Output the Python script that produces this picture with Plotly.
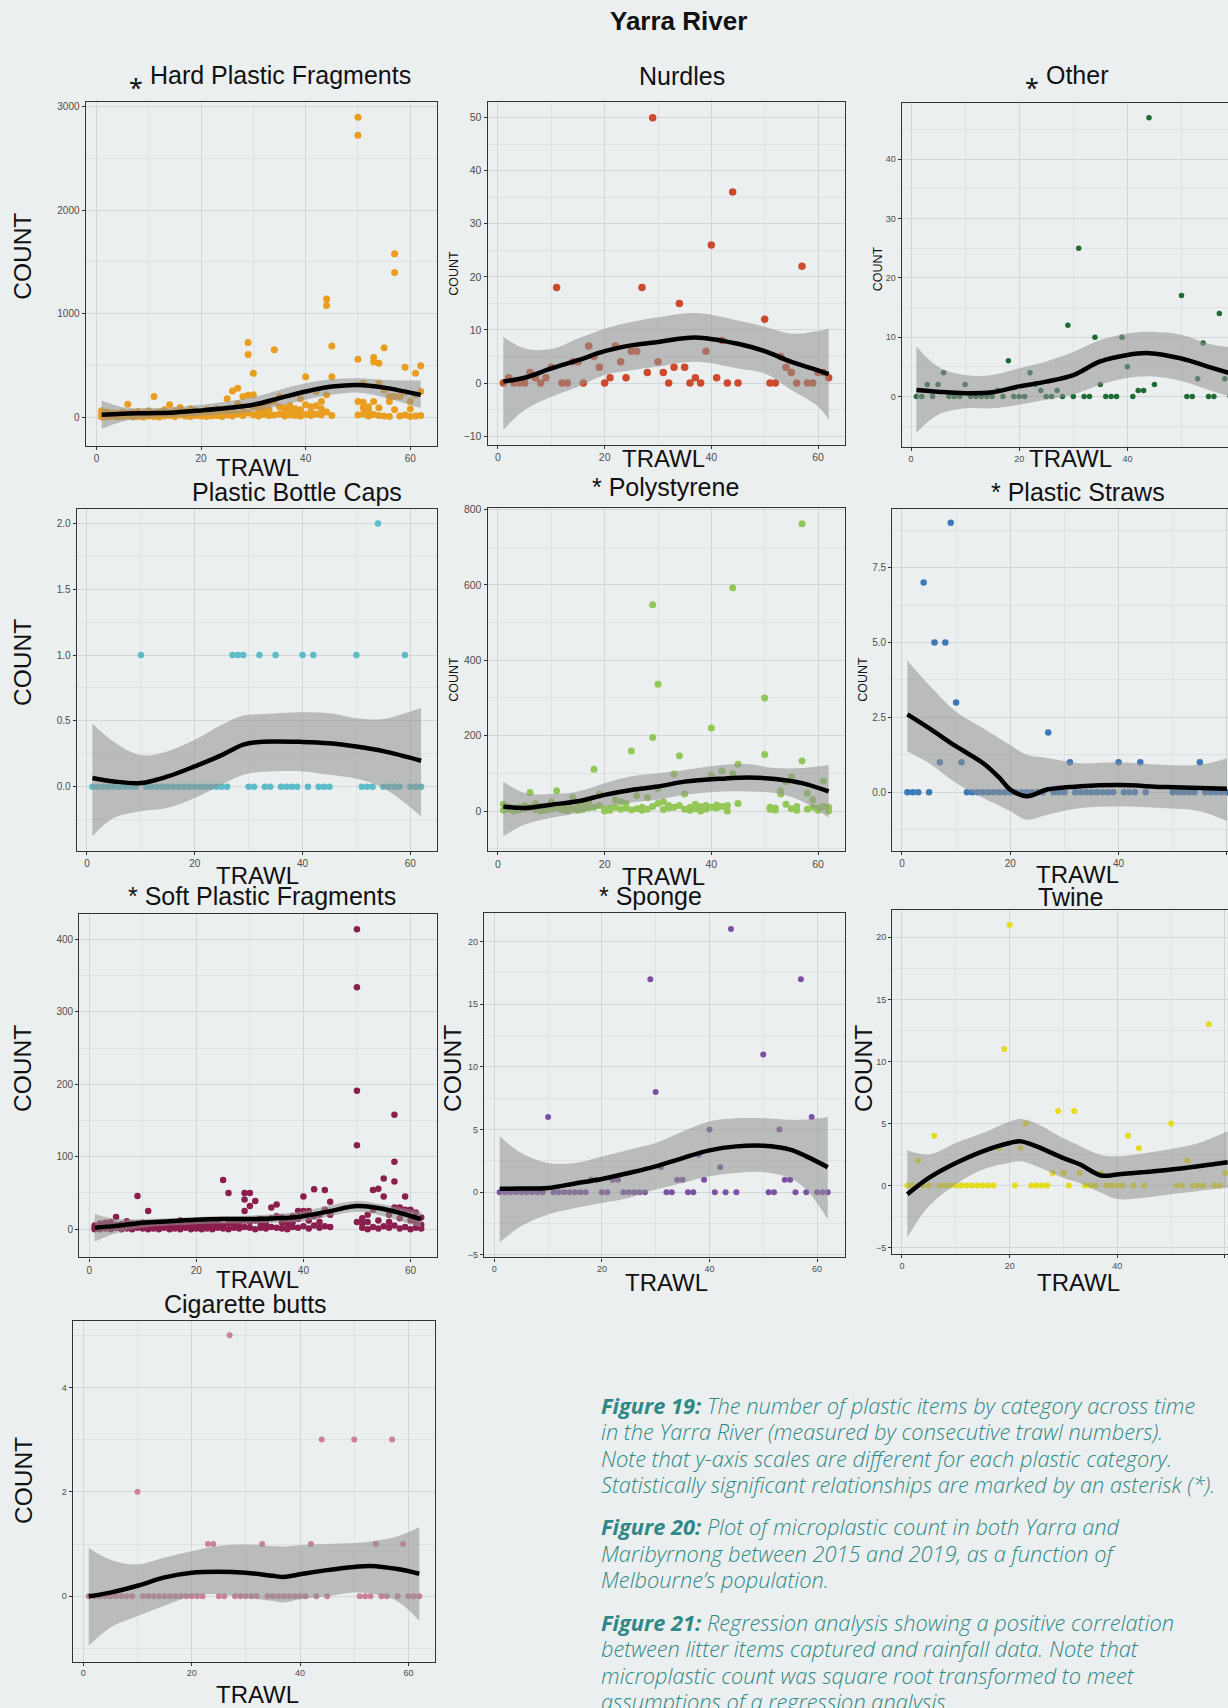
import plotly.graph_objects as go

W, H = 1228, 1708
BG = "#ECEFEF"
GRID = "#D3D7D8"
GRID2 = "#DFE2E3"
BAND = "rgba(145,145,145,0.55)"
FONT = "Liberation Sans, Arial, sans-serif"
CAP_COLOR = "#2E8886"

# ---------------- data ----------------
TRAWLS = [1, 2, 3, 4, 5, 6, 7, 8, 9, 10, 11, 12, 13, 14, 15, 16, 17, 18, 19, 20,
          21, 22, 23, 24, 25, 26, 27, 28, 29, 30, 31, 32, 33, 34, 35, 36, 37, 38, 39, 40,
          41, 42, 43, 44, 45, 50, 51, 52, 53, 54, 55, 56, 57, 58, 59, 60, 61, 62]

# several samples per trawl (dense panels)
hard_plastic = {
    1: [0, 10, 25, 45, 60], 2: [0, 15, 30, 50], 3: [5, 20, 40], 4: [0, 10, 35], 5: [5, 25, 50],
    6: [10, 40, 125], 7: [0, 20, 45], 8: [5, 30, 55], 9: [0, 15, 40], 10: [10, 35, 60],
    11: [5, 40, 199], 12: [0, 25, 50], 13: [10, 30, 70], 14: [15, 45, 119], 15: [5, 30, 60],
    16: [20, 50, 93], 17: [10, 35, 55], 18: [5, 40, 80], 19: [15, 30, 60], 20: [10, 25, 50],
    21: [5, 40, 70], 22: [10, 30, 60], 23: [15, 45, 80], 24: [5, 25, 55], 25: [20, 60, 176],
    26: [10, 50, 253], 27: [30, 130, 279], 28: [15, 80, 199], 29: [40, 210, 606, 722],
    30: [20, 100, 215, 423], 31: [10, 45, 90], 32: [25, 60, 120], 33: [15, 70, 140],
    34: [20, 150, 651], 35: [30, 100, 199], 36: [10, 50, 90], 37: [20, 60, 110], 38: [15, 45, 80],
    39: [10, 70, 176], 40: [25, 120, 391], 41: [15, 50, 100], 42: [30, 110, 247], 43: [20, 80, 151],
    44: [50, 215, 1078, 1142], 45: [15, 391, 687], 50: [20, 151, 558, 2724, 2900],
    51: [30, 90, 144, 327], 52: [10, 60, 100], 53: [25, 151, 536, 577], 54: [15, 90, 327, 520],
    55: [10, 263, 670], 56: [5, 151, 200], 57: [71, 200, 1399, 1578], 58: [10, 199],
    59: [20, 241, 481], 60: [5, 77, 150], 61: [10, 215, 423], 62: [15, 247, 497],
}
polystyrene = {
    1: [2, 18], 2: [5, 12], 3: [0, 8], 4: [3, 10], 5: [6, 14], 6: [10, 49], 7: [4, 20], 8: [0, 12],
    9: [2, 9], 10: [5, 25], 11: [8, 54], 12: [3, 15], 13: [0, 10], 14: [6, 36], 15: [2, 12],
    16: [4, 18], 17: [8, 22], 18: [10, 111], 19: [15, 45], 20: [0, 5], 21: [2, 8], 22: [10, 30],
    23: [5, 25], 24: [8, 20], 25: [3, 159], 26: [6, 41], 27: [2, 10], 28: [5, 36],
    29: [12, 195, 547], 30: [20, 59, 336], 31: [4, 25], 32: [8, 15], 33: [10, 98], 34: [15, 147],
    35: [5, 45], 36: [2, 10], 37: [6, 18], 38: [0, 12], 39: [5, 15], 40: [10, 94, 220],
    41: [8, 16], 42: [12, 106], 43: [0, 15], 44: [99, 592], 45: [20, 124], 50: [150, 300],
    51: [5, 10], 52: [3, 8], 53: [45, 54], 54: [18, 78], 55: [6, 90], 56: [2, 12], 57: [133, 762],
    58: [5, 47], 59: [10, 30], 60: [2, 8], 61: [12, 80], 62: [0, 10],
}
soft_plastic = {
    1: [0, 2, 5], 2: [0, 3, 8], 3: [1, 5, 9], 4: [0, 4, 10], 5: [2, 6, 17], 6: [0, 3, 7],
    7: [1, 5, 11], 8: [0, 4, 8], 9: [2, 8, 46], 10: [1, 5, 9], 11: [0, 6, 25], 12: [1, 3, 7],
    13: [0, 4, 8], 14: [2, 5, 6], 15: [0, 3, 7], 16: [1, 4, 6], 17: [0, 6, 12], 18: [2, 5, 9],
    19: [0, 3, 7], 20: [1, 5, 8], 21: [0, 2, 6], 22: [1, 4, 9], 23: [0, 3, 7], 24: [2, 6, 10],
    25: [1, 5, 68], 26: [0, 8, 50], 27: [2, 6, 10], 28: [1, 4, 9], 29: [3, 12, 25, 41, 50],
    30: [2, 10, 32, 50], 31: [0, 12, 39], 32: [2, 8, 14], 33: [1, 6, 12], 34: [3, 15, 30],
    35: [2, 18, 34], 36: [1, 9, 16], 37: [0, 7, 13], 38: [3, 10, 18], 39: [2, 14, 25],
    40: [4, 25, 45], 41: [1, 12, 25], 42: [5, 18, 55], 43: [2, 10, 20], 44: [4, 27, 54],
    45: [3, 20, 38], 50: [10, 116, 191, 334, 414], 51: [2, 8, 15], 52: [0, 10, 20],
    53: [3, 27, 54], 54: [1, 12, 56], 55: [4, 45, 70], 56: [2, 10, 20], 57: [5, 30, 66, 93, 158],
    58: [1, 15, 30], 59: [3, 27, 45], 60: [0, 12, 27], 61: [2, 10, 23], 62: [1, 6, 16],
}

# one count per trawl
nurdles = [0, 1, 0, 0, 0, 2, 1, 0, 1, 3, 18, 0, 0, 4, 4, 0, 7, 5, 3, 0,
           1, 7, 4, 1, 6, 6, 18, 2, 50, 4, 2, 0, 3, 15, 3, 0, 1, 0, 6, 26,
           1, 8, 0, 36, 0, 12, 0, 0, 5, 3, 2, 0, 22, 0, 0, 2, 2, 1]
other = [0, 0, 2, 0, 2, 4, 0, 0, 0, 2, 0, 0, 0, 0, 0, 1, 0, 6, 0, 0,
         0, 4, 2, 1, 0, 0, 1, 0, 12, 0, 25, 0, 0, 10, 2, 0, 0, 0, 10, 5,
         0, 1, 1, 47, 2, 17, 0, 0, 3, 9, 0, 0, 14, 3, 0, 0, 0, 0]
bottle_caps = [0, 0, 0, 0, 0, 0, 0, 0, 0, 1, 0, 0, 0, 0, 0, 0, 0, 0, 0, 0,
               0, 0, 0, 0, 0, 0, 1, 1, 1, 0, 0, 1, 0, 0, 1, 0, 0, 0, 0, 1,
               0, 1, 0, 0, 0, 1, 0, 0, 0, 2, 0, 0, 0, 0, 1, 0, 0, 0]
straws = [0, 0, 0, 7, 0, 5, 1, 5, 9, 3, 1, 0, 0, 0, 0, 0, 0, 0, 0, 0,
          0, 0, 0, 0, 0, 0, 2, 0, 0, 0, 1, 0, 0, 0, 0, 0, 0, 0, 0, 1,
          0, 0, 0, 1, 0, 0, 0, 0, 0, 0, 1, 0, 0, 0, 0, 0, 0, 0]
sponge = [0, 0, 0, 0, 0, 0, 0, 0, 0, 6, 0, 0, 0, 0, 0, 0, 0, 1, 1, 0,
          0, 1, 1, 0, 0, 0, 0, 0, 17, 8, 2, 0, 0, 1, 1, 0, 0, 3, 1, 5,
          0, 2, 0, 21, 0, 11, 0, 0, 5, 1, 1, 0, 17, 0, 6, 0, 0, 0]
twine = [0, 0, 2, 0, 0, 4, 0, 0, 0, 0, 0, 0, 0, 0, 0, 0, 0, 3, 11, 21,
         0, 3, 5, 0, 0, 0, 0, 1, 6, 1, 0, 6, 1, 0, 0, 0, 1, 0, 0, 0,
         0, 4, 0, 3, 0, 5, 0, 0, 2, 0, 0, 0, 13, 0, 0, 1, 0, 0]
cigarette = [0, 0, 0, 0, 0, 0, 0, 0, 0, 2, 0, 0, 0, 0, 0, 0, 0, 0, 0, 0,
             0, 0, 1, 1, 0, 0, 5, 0, 0, 0, 0, 0, 1, 0, 0, 0, 0, 0, 0, 0,
             0, 1, 0, 3, 0, 3, 0, 0, 0, 1, 0, 0, 3, 0, 1, 0, 0, 0]

# loess smooth (fit, lower, upper)
hard_fx = [1, 5, 10, 15, 20, 25, 30, 35, 40, 45, 50, 55, 62]
hard_fit = [22, 32, 38, 45, 64, 87, 119, 183, 247, 295, 311, 285, 215]
hard_lo = [-115, -42, -10, 0, 13, 29, 55, 109, 167, 215, 237, 189, 87]
hard_hi = [160, 96, 87, 96, 119, 151, 192, 263, 327, 366, 375, 359, 353]

nurd_fx = [1, 5, 10, 15, 20, 25, 30, 37, 45, 50, 55, 60, 62]
nurd_fit = [0.3, 1.0, 2.75, 4.3, 6.0, 7.1, 7.75, 8.6, 7.4, 6.0, 4.0, 2.4, 1.7]
nurd_lo = [-8.8, -5.1, -2.6, -0.7, 1.5, 2.4, 3.1, 4.0, 2.75, 1.8, -1.3, -4.4, -6.9]
nurd_hi = [8.7, 6.5, 6.4, 8.4, 10.25, 11.5, 12.4, 13.2, 11.8, 10.6, 9.3, 9.8, 10.25]

oth_fx = [1, 5, 10, 15, 20, 25, 30, 35, 40, 44, 50, 55, 59]
oth_fit = [1.1, 0.8, 0.55, 0.7, 1.7, 2.5, 3.6, 5.9, 7.0, 7.3, 6.4, 5.0, 3.9]
oth_lo = [-6.1, -3.1, -2.0, -2.0, -1.4, -0.56, 0.3, 2.0, 3.1, 3.4, 2.6, 1.1, 0.0]
oth_hi = [8.4, 5.0, 3.6, 3.6, 4.75, 5.9, 7.5, 9.5, 10.6, 10.9, 10.4, 8.9, 8.3]

caps_fx = [1, 5, 10, 15, 20, 25, 29, 32, 40, 45, 50, 55, 62]
caps_fit = [0.066, 0.04, 0.028, 0.078, 0.154, 0.24, 0.32, 0.34, 0.34, 0.33, 0.305, 0.27, 0.197]
caps_lo = [-0.376, -0.237, -0.187, -0.16, -0.086, 0.015, 0.09, 0.11, 0.116, 0.09, 0.06, -0.01, -0.225]
caps_hi = [0.48, 0.34, 0.24, 0.27, 0.356, 0.47, 0.54, 0.55, 0.566, 0.558, 0.52, 0.515, 0.6]

poly_fx = [1, 5, 10, 15, 20, 25, 30, 35, 42, 47, 52, 57, 62]
poly_fit = [12, 8, 17, 26, 43, 56, 65, 78, 86, 89, 85, 74, 52]
poly_lo = [-67, -36, -18, -5, 12, 23, 30, 43, 52, 52, 48, 26, -18]
poly_hi = [78, 48, 45, 52, 74, 92, 100, 109, 122, 124, 114, 114, 122]

str_fx = [1, 5, 10, 15, 18, 20, 23, 27, 33, 40, 48, 55, 60]
str_fit = [2.6, 2.14, 1.53, 0.97, 0.48, 0.09, -0.13, 0.1, 0.2, 0.24, 0.18, 0.14, 0.12]
str_lo = [1.36, 0.97, 0.31, -0.19, -0.45, -0.63, -0.91, -0.74, -0.52, -0.47, -0.52, -0.63, -0.96]
str_hi = [4.4, 3.58, 2.69, 2.14, 1.8, 1.58, 1.25, 1.14, 0.97, 1.0, 0.92, 0.92, 1.14]

soft_fx = [1, 5, 10, 15, 20, 25, 30, 35, 40, 45, 50, 55, 62]
soft_fit = [2, 4.6, 9, 11, 13, 14, 14, 15, 18, 25, 32, 28, 14]
soft_lo = [-17, -5.5, 2, 5, 7, 8, 8, 9, 11, 18, 24, 18, 2]
soft_hi = [21, 14, 14, 15, 17, 18, 19, 21, 25, 33, 39, 34, 24]

spg_fx = [1, 5, 10, 15, 20, 25, 30, 35, 40, 45, 50, 55, 58, 62]
spg_fit = [0.27, 0.3, 0.34, 0.7, 1.06, 1.54, 2.07, 2.73, 3.34, 3.66, 3.71, 3.4, 2.86, 2.0]
spg_lo = [-4.0, -2.7, -1.78, -1.25, -0.85, -0.45, 0.21, 0.74, 1.27, 1.54, 1.6, 1.14, 0.21, -2.17]
spg_hi = [4.46, 3.13, 2.33, 2.33, 2.86, 3.4, 3.93, 4.85, 5.65, 5.9, 5.9, 5.78, 5.8, 6.0]

twn_fx = [1, 5, 10, 15, 20, 22, 25, 30, 33, 37, 40, 45, 50, 55, 60.5]
twn_fit = [-0.72, 0.6, 1.8, 2.75, 3.42, 3.55, 3.15, 2.2, 1.7, 0.8, 0.88, 1.07, 1.28, 1.55, 1.87]
twn_lo = [-4.2, -1.66, 0.08, 1.28, 1.82, 1.95, 1.55, 0.6, 0.2, -0.6, -1.1, -1.0, -0.72, -0.45, -0.19]
twn_hi = [2.83, 2.49, 3.42, 4.22, 5.16, 5.35, 5.0, 3.8, 3.2, 2.45, 2.35, 2.6, 2.94, 3.4, 4.36]

cig_fx = [1, 5, 10, 15, 20, 25, 30, 35, 37, 40, 45, 50, 53, 58, 62]
cig_fit = [0.0, 0.07, 0.2, 0.36, 0.45, 0.47, 0.45, 0.39, 0.37, 0.42, 0.5, 0.56, 0.58, 0.52, 0.43]
cig_lo = [-0.95, -0.6, -0.38, -0.18, 0.0, 0.04, -0.03, -0.09, -0.12, -0.06, 0.0, 0.07, 0.05, -0.1, -0.47]
cig_hi = [0.93, 0.7, 0.61, 0.74, 0.86, 0.96, 0.99, 0.96, 0.95, 0.98, 1.0, 1.02, 1.05, 1.15, 1.32]

caption_lines = [
    ("<b>Figure 19:</b> The number of plastic items by category across time", 1407),
    ("in the Yarra River (measured by consecutive trawl numbers).", 1433.3),
    ("Note that y-axis scales are different for each plastic category.", 1460),
    ("Statistically significant relationships are marked by an asterisk (*).", 1486.7),
    ("<b>Figure 20:</b> Plot of microplastic count in both Yarra and", 1529),
    ("Maribyrnong between 2015 and 2019, as a function of", 1555.5),
    ("Melbourne\u2019s population.", 1582),
    ("<b>Figure 21:</b> Regression analysis showing a positive correlation", 1625),
    ("between litter items captured and rainfall data. Note that", 1651.5),
    ("microplastic count was square root transformed to meet", 1678),
    ("assumptions of a regression analysis.", 1704.5),
]


def flatten(d):
    xs, ys = [], []
    for k, vals in d.items():
        for v in vals:
            xs.append(k)
            ys.append(v)
    return xs, ys


hx, hy = flatten(hard_plastic)
px_, py_ = flatten(polystyrene)
sx, sy = flatten(soft_plastic)

panels = [
    dict(title="\u204e Hard Plastic Fragments", tpos=(270, 71), color="#E99E1F", x=hx, y=hy,
         fx=hard_fx, fit=hard_fit, lo=hard_lo, hi=hard_hi, frame=(85.7, 436.7, 97.7, 442.7),
         xr=(-2.05, 65.05), yr=(-276, 3044), dtick=1000, fmt="d", ms=7, tf=10,
         count=(True, 23, 253), trawl=(257, 465), cut=False),
    dict(title="Nurdles", tpos=(682, 71), color="#CD4A2C", x=TRAWLS, y=nurdles,
         fx=nurd_fx, fit=nurd_fit, lo=nurd_lo, hi=nurd_hi, frame=(487.7, 845, 97.7, 441.7),
         xr=(-1.93, 65.06), yr=(-11.6, 52.9), dtick=10, fmt="d", ms=7.5, tf=10.5,
         count=(False, 454, 270), trawl=(663, 456), cut=False),
    dict(title="\u204e Other", tpos=(1066, 71), color="#1F6B36", x=TRAWLS, y=other,
         fx=oth_fx, fit=oth_fit, lo=oth_lo, hi=oth_hi, frame=(901.7, 1228, 98.3, 444.3),
         xr=(-1.72, 58.6), yr=(-8.56, 49.5), dtick=10, fmt="d", ms=5.5, tf=9,
         count=(False, 877.5, 265), trawl=(1070, 456), cut=True),
    dict(title="Plastic Bottle Caps", tpos=(296.7, 489), color="#5CBCC8", x=TRAWLS, y=bottle_caps,
         fx=caps_fx, fit=caps_fit, lo=caps_lo, hi=caps_hi, frame=(76.7, 436.7, 506, 850),
         xr=(-1.91, 64.9), yr=(-0.489, 2.113), dtick=0.5, fmt=".1f", ms=6.5, tf=10,
         count=(True, 23, 661), trawl=(257, 875), cut=False),
    dict(title="* Polystyrene", tpos=(665, 484), color="#93C757", x=px_, y=py_,
         fx=poly_fx, fit=poly_fit, lo=poly_lo, hi=poly_hi, frame=(487.7, 845, 505.3, 850),
         xr=(-1.93, 65.06), yr=(-106, 804), dtick=200, fmt="d", ms=7, tf=10.5,
         count=(False, 454, 678), trawl=(663, 876), cut=False),
    dict(title="* Plastic Straws", tpos=(1078, 489), color="#3C79B8", x=TRAWLS, y=straws,
         fx=str_fx, fit=str_fit, lo=str_lo, hi=str_hi, frame=(892.3, 1228, 506, 850),
         xr=(-1.79, 60.2), yr=(-1.96, 9.47), dtick=2.5, fmt=".1f", ms=6.5, tf=10,
         count=(False, 863, 678), trawl=(1077, 874), cut=True),
    dict(title="* Soft Plastic Fragments", tpos=(261.7, 895), color="#8B1E4C", x=sx, y=sy,
         fx=soft_fx, fit=soft_fit, lo=soft_lo, hi=soft_hi, frame=(79.3, 436.7, 913.3, 1258.3),
         xr=(-1.87, 64.9), yr=(-38.9, 435), dtick=100, fmt="d", ms=6.5, tf=10,
         count=(True, 23, 1069), trawl=(257, 1280), cut=False),
    dict(title="* Sponge", tpos=(650, 895), color="#7C50A2", x=TRAWLS, y=sponge,
         fx=spg_fx, fit=spg_fit, lo=spg_lo, hi=spg_hi, frame=(484, 845, 912.7, 1258.3),
         xr=(-1.92, 65.2), yr=(-5.2, 22.25), dtick=5, fmt="d", ms=6, tf=9,
         count=(True, 453, 1069), trawl=(666.7, 1284), cut=False),
    dict(title="Twine", tpos=(1070, 896), color="#E3DC1C", x=TRAWLS, y=twine,
         fx=twn_fx, fit=twn_fit, lo=twn_lo, hi=twn_hi, frame=(892.3, 1228, 909.3, 1255),
         xr=(-1.8, 60.56), yr=(-5.54, 22.2), dtick=5, fmt="d", ms=6, tf=9,
         count=(True, 864, 1069), trawl=(1078, 1284), cut=True),
    dict(title="Cigarette butts", tpos=(245.8, 1305), color="#CA8199", x=TRAWLS, y=cigarette,
         fx=cig_fx, fit=cig_fit, lo=cig_lo, hi=cig_hi, frame=(72.7, 435, 1321.7, 1664.3),
         xr=(-1.96, 64.9), yr=(-1.25, 5.28), dtick=2, fmt="d", ms=6, tf=9,
         count=(True, 23, 1483), trawl=(257, 1697), cut=False),
]


def pxx(x):
    return x / W


def pyy(y):
    return 1 - y / H


fig = go.Figure()
annotations = []
layout_axes = {}

for i, p in enumerate(panels, start=1):
    xa = "x" if i == 1 else f"x{i}"
    ya = "y" if i == 1 else f"y{i}"
    L, R, T, B = p["frame"]
    common = dict(xaxis=xa, yaxis=ya, showlegend=False, hoverinfo="skip")
    fig.add_trace(go.Scatter(x=p["x"], y=p["y"], mode="markers",
                             marker=dict(size=p["ms"], color=p["color"], line=dict(width=0)), **common))
    fig.add_trace(go.Scatter(x=p["fx"], y=p["lo"], mode="lines",
                             line=dict(width=0, color="rgba(0,0,0,0)", shape="spline", smoothing=1.0), **common))
    fig.add_trace(go.Scatter(x=p["fx"], y=p["hi"], mode="lines", fill="tonexty", fillcolor=BAND,
                             line=dict(width=0, color="rgba(0,0,0,0)", shape="spline", smoothing=1.0), **common))
    fig.add_trace(go.Scatter(x=p["fx"], y=p["fit"], mode="lines",
                             line=dict(width=4.5, color="black", shape="spline", smoothing=1.0), **common))

    axis_common = dict(
        showgrid=True, gridcolor=GRID, gridwidth=1.2,
        ticks="outside", ticklen=3, tickwidth=1, tickcolor="#333333",
        showline=True, linecolor="#333333", linewidth=1.3, zeroline=False,
        tickmode="linear", tick0=0,
    )
    layout_axes["xaxis" if i == 1 else f"xaxis{i}"] = dict(
        axis_common, domain=[pxx(L), pxx(R)], range=list(p["xr"]), anchor=ya, dtick=20,
        minor=dict(dtick=10, showgrid=True, gridcolor=GRID2, gridwidth=0.7),
        tickfont=dict(size=p["tf"], color="#4D4D4D", family=FONT), mirror=True,
    )
    layout_axes["yaxis" if i == 1 else f"yaxis{i}"] = dict(
        axis_common, domain=[pyy(B), pyy(T)], range=list(p["yr"]), anchor=xa, dtick=p["dtick"],
        tickformat=p["fmt"],
        minor=dict(dtick=p["dtick"] / 2, showgrid=True, gridcolor=GRID2, gridwidth=0.7),
        tickfont=dict(size=p["tf"], color="#4D4D4D", family=FONT), mirror=not p["cut"],
    )

    # x label
    annotations.append(dict(text="TRAWL", x=pxx(p["trawl"][0]), y=pyy(p["trawl"][1]),
                            xref="paper", yref="paper", showarrow=False, xanchor="center", yanchor="middle",
                            font=dict(size=24, color="#111111", family=FONT)))
    # y label
    big, cx, cy = p["count"]
    annotations.append(dict(text="COUNT", x=pxx(cx), y=pyy(cy), xref="paper", yref="paper",
                            showarrow=False, textangle=-90, xanchor="center", yanchor="middle",
                            font=dict(size=24.5 if big else 12.5, color="#111111", family=FONT)))
    # panel title
    tx, ty = p["tpos"]
    annotations.append(dict(text=p["title"], x=pxx(tx), y=pyy(ty), xref="paper", yref="paper",
                            showarrow=False, xanchor="center", yanchor="middle",
                            font=dict(size=25, color="#111111", family=FONT)))

annotations.append(dict(text="<b>Yarra River</b>", x=pxx(678), y=pyy(16), xref="paper", yref="paper",
                        showarrow=False, xanchor="center", yanchor="middle",
                        font=dict(size=26, color="#111111", family=FONT)))

for txt, yy in caption_lines:
    annotations.append(dict(text=txt, x=pxx(599), y=pyy(yy), xref="paper", yref="paper",
                            showarrow=False, xanchor="left", yanchor="middle",
                            font=dict(size=21.8, color=CAP_COLOR, family="Open Sans, Lato, sans-serif",
                                      style="italic", weight=300)))

fig.update_layout(
    width=W, height=H, margin=dict(l=0, r=0, t=0, b=0),
    paper_bgcolor=BG, plot_bgcolor=BG, showlegend=False,
    annotations=annotations, **layout_axes,
)

fig.write_html("out.html")
